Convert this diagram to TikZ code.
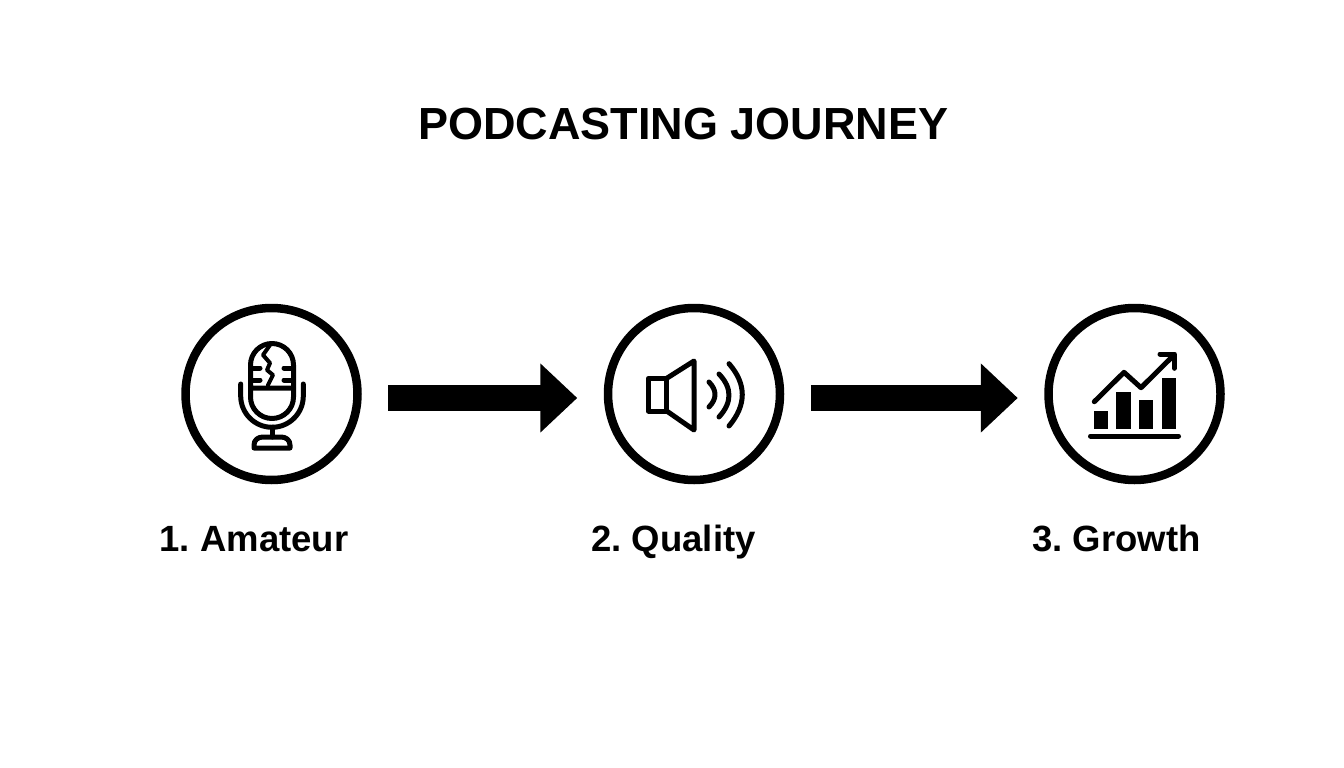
\documentclass[tikz,border=0pt]{standalone}
\usepackage{fontspec}
\setmainfont{Liberation Sans}
\usetikzlibrary{arrows.meta}

\tikzset{
  stage/.style={draw=black, circle, line width=8.5pt, minimum size=172pt, inner sep=0pt},
  flow/.style={line width=26pt, -{Triangle[length=37pt, width=67pt]}, shorten <=26.5pt, shorten >=26.5pt},
  glyph/.style={line width=5pt, line cap=round, line join=round},
  caption/.style={anchor=base, font=\fontsize{36.5}{40}\selectfont\bfseries},
}

\begin{document}
\begin{tikzpicture}[x=1pt, y=-1pt]

  \useasboundingbox (0,0) rectangle (1344,768);

  \node[anchor=base, font=\fontsize{45}{48}\selectfont\bfseries] (title) at (683.5,139) {PODCASTING JOURNEY};

  \node[stage] (amateur) at (271.5,394) {};
  \node[stage] (quality) at (694,394) {};
  \node[stage] (growth) at (1134.5,394) {};

  \node[caption] (amateurlabel) at (254,551) {1.~Amateur};
  \node[caption] (qualitylabel) at (673.5,551) {2.~Quality};
  \node[caption] (growthlabel) at (1116.5,551) {3.~Growth};

  % arrows between the stages
  \draw[flow] ([yshift=-4pt]amateur.east) to ([yshift=-4pt]quality.west);
  \draw[flow] ([yshift=-4pt]quality.east) to ([yshift=-4pt]growth.west);

  % microphone head
  \draw[glyph]
  (250.5,388) to (250.5,365)
  arc (180:360:21.5)
  to (293.5,388)
  to cycle;
  \draw[glyph] (250.5,388)
  to (250.5,397)
  arc (180:0:21.5)
  to (293.5,388);

  % microphone grille and crack
  \draw[glyph] (252,368) to (260,368);
  \draw[glyph] (252,380) to (260,380);
  \draw[glyph] (284,368) to (291,368);
  \draw[glyph] (284,380) to (291,380);
  \draw[glyph, line width=4pt]
  (270,345) to (263,355) to (270,363) to (267,370) to (273,375) to (268,385);

  % microphone cradle and base
  \draw[glyph] (240.7,384) to (240.7,396)
  arc (180:0:31.3)
  to (303.3,384);
  \draw[glyph] (272,427) to (272,437);
  \draw[glyph] (254,448)
  to (254,445)
  .. controls (254,440) and (258,437) .. (263,437)
  to (281,437)
  .. controls (286,437) and (290,440) .. (290,445)
  to (290,448)
  to cycle;

  % speaker
  \draw[glyph] (648.3,378.3) rectangle (666.7,411);
  \draw[glyph] (666.7,378.3) to (694,361) to (694,430) to (666.7,411);

  % sound waves
  \draw[glyph] (709,382) .. controls (717,390.3) and (717,398.7) .. (709,407);
  \draw[glyph] (719,374) .. controls (732.3,388) and (732.3,402.3) .. (719,417);
  \draw[glyph] (729,363.7) .. controls (746.7,384) and (746.7,405) .. (729,426);

  % chart bars
  \fill (1093.7,410.7) rectangle (1107.7,429);
  \fill (1116.3,392.3) rectangle (1130.7,429);
  \fill (1139,400.3) rectangle (1153.3,429);
  \fill (1162,377.7) rectangle (1176,429);
  \draw[glyph] (1090.5,436) to (1178.5,436);

  % chart trend line
  \draw[glyph] (1094.3,401.7) to (1124,372.3) to (1141,387.7) to (1173.3,355.7);
  \draw[glyph] (1160,354) to (1174.3,354) to (1174.3,368.3);

\end{tikzpicture}
\end{document}
